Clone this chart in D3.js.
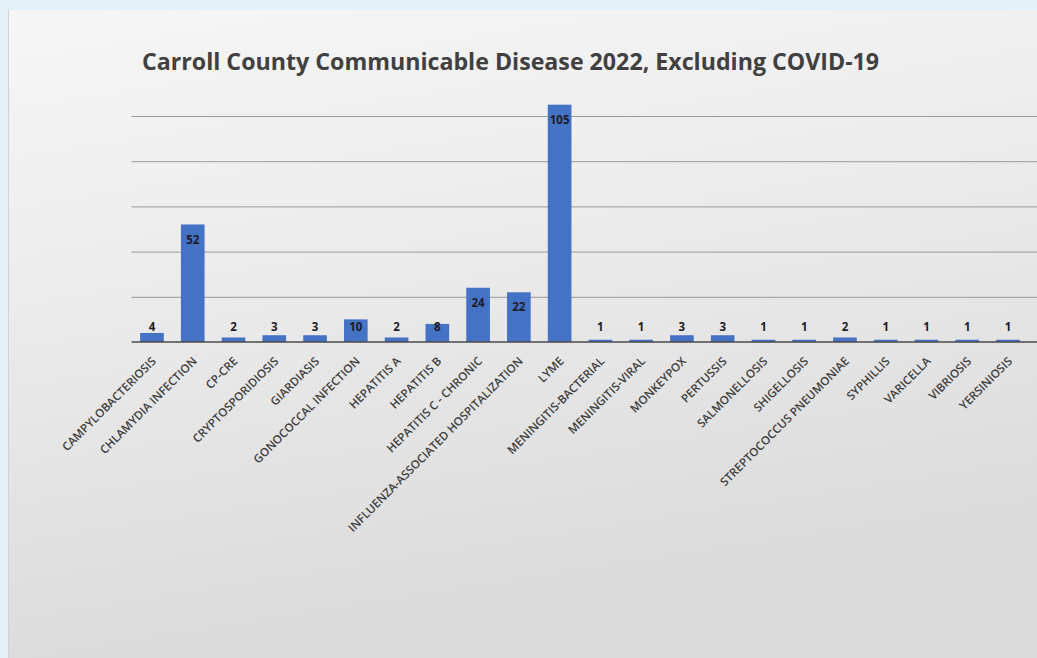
<!DOCTYPE html>
<html>
<head>
<meta charset="utf-8">
<script src="https://cdn.jsdelivr.net/npm/d3@7"></script>
<style>
  html, body { margin: 0; padding: 0; background: #e4f1f8; }
  svg { display: block; }
</style>
</head>
<body>
<div id="chart"></div>
<script>
const categories = [
  "CAMPYLOBACTERIOSIS", "CHLAMYDIA INFECTION", "CP-CRE", "CRYPTOSPORIDIOSIS",
  "GIARDIASIS", "GONOCOCCAL INFECTION", "HEPATITIS A", "HEPATITIS B",
  "HEPATITIS C - CHRONIC", "INFLUENZA-ASSOCIATED HOSPITALIZATION", "LYME",
  "MENINGITIS-BACTERIAL", "MENINGITIS-VIRAL", "MONKEYPOX", "PERTUSSIS",
  "SALMONELLOSIS", "SHIGELLOSIS", "STREPTOCOCCUS PNEUMONIAE", "SYPHILLIS",
  "VARICELLA", "VIBRIOSIS", "YERSINIOSIS"
];
const cases = [4, 52, 2, 3, 3, 10, 2, 8, 24, 22, 105, 1, 1, 3, 3, 1, 1, 2, 1, 1, 1, 1];
const gridTicks = [20, 40, 60, 80, 100];
const titleText = "Carroll County Communicable Disease 2022, Excluding COVID-19";

const W = 1037, H = 658;
const MARGIN = { LEFT: 131.6, RIGHT: 8.6, TOP: 116, BOTTOM: 316 };
const plotW = W - MARGIN.LEFT - MARGIN.RIGHT;
const plotH = H - MARGIN.TOP - MARGIN.BOTTOM;

const svg = d3.select("#chart").append("svg")
  .attr("width", W)
  .attr("height", H);

// panel background
const defs = svg.append("defs");
const grad = defs.append("linearGradient")
  .attr("id", "panelGrad")
  .attr("x1", 0).attr("y1", 0).attr("x2", 0.25).attr("y2", 1);
grad.append("stop").attr("offset", "0%").attr("stop-color", "#f6f6f6");
grad.append("stop").attr("offset", "45%").attr("stop-color", "#ebebeb");
grad.append("stop").attr("offset", "100%").attr("stop-color", "#dadada");

svg.append("rect")
  .attr("x", 8).attr("y", 10)
  .attr("width", W - 8).attr("height", H - 10)
  .attr("fill", "url(#panelGrad)");
svg.append("line")
  .attr("x1", 8.5).attr("x2", 8.5).attr("y1", 10).attr("y2", H)
  .attr("stroke", "#cfd3d6").attr("stroke-width", 1);

svg.append("text")
  .attr("x", 142).attr("y", 70)
  .attr("font-family", "'Open Sans', sans-serif")
  .attr("font-weight", 700)
  .attr("font-size", 23.2)
  .attr("fill", "#404040")
  .text(titleText);

const g = svg.append("g")
  .attr("transform", `translate(${MARGIN.LEFT}, ${MARGIN.TOP})`);

const x = d3.scaleBand()
  .domain(categories)
  .range([0, plotW])
  .paddingInner(0.42)
  .paddingOuter(0.21);

const y = d3.scaleLinear()
  .domain([0, 100])
  .range([plotH, 0]);

// gridlines
const grid = g.append("g")
  .call(d3.axisLeft(y).tickValues(gridTicks).tickSize(-(W - MARGIN.LEFT)).tickFormat(""));
grid.select(".domain").remove();
grid.selectAll(".tick line")
  .attr("stroke", "#9a9a9a")
  .attr("stroke-width", 1);

// bars
g.selectAll(".bar")
  .data(cases)
  .enter().append("rect")
  .attr("class", "bar")
  .attr("x", (d, i) => x(categories[i]))
  .attr("y", d => y(d))
  .attr("width", x.bandwidth())
  .attr("height", d => plotH - y(d))
  .attr("fill", "#4472c4");

// data labels (inside end, kept above the baseline)
g.selectAll(".val")
  .data(cases)
  .enter().append("text")
  .attr("class", "val")
  .attr("x", (d, i) => x(categories[i]) + x.bandwidth() / 2)
  .attr("y", d => Math.min(y(d) + 15, plotH - 15))
  .attr("dy", "0.35em")
  .attr("text-anchor", "middle")
  .attr("font-family", "'Open Sans', sans-serif")
  .attr("font-weight", 700)
  .attr("font-size", 11.5)
  .attr("fill", "#1c1c2a")
  .text(d => d);

// category axis
const xAxis = g.append("g")
  .attr("transform", `translate(0, ${plotH})`)
  .call(d3.axisBottom(x).tickSize(0));
xAxis.select(".domain").remove();
xAxis.selectAll(".tick text")
  .attr("x", 0).attr("y", 0).attr("dy", "0.35em")
  .attr("transform", "translate(2, 17) rotate(-45)")
  .attr("text-anchor", "end")
  .attr("font-family", "'Open Sans', sans-serif")
  .attr("font-weight", 600)
  .attr("font-size", 11.6)
  .attr("fill", "#3f3f3f");

// baseline
g.append("line")
  .attr("x1", 0).attr("x2", W - MARGIN.LEFT)
  .attr("y1", plotH).attr("y2", plotH)
  .attr("stroke", "#4a4a4a")
  .attr("stroke-width", 1.5);
</script>
</body>
</html>
